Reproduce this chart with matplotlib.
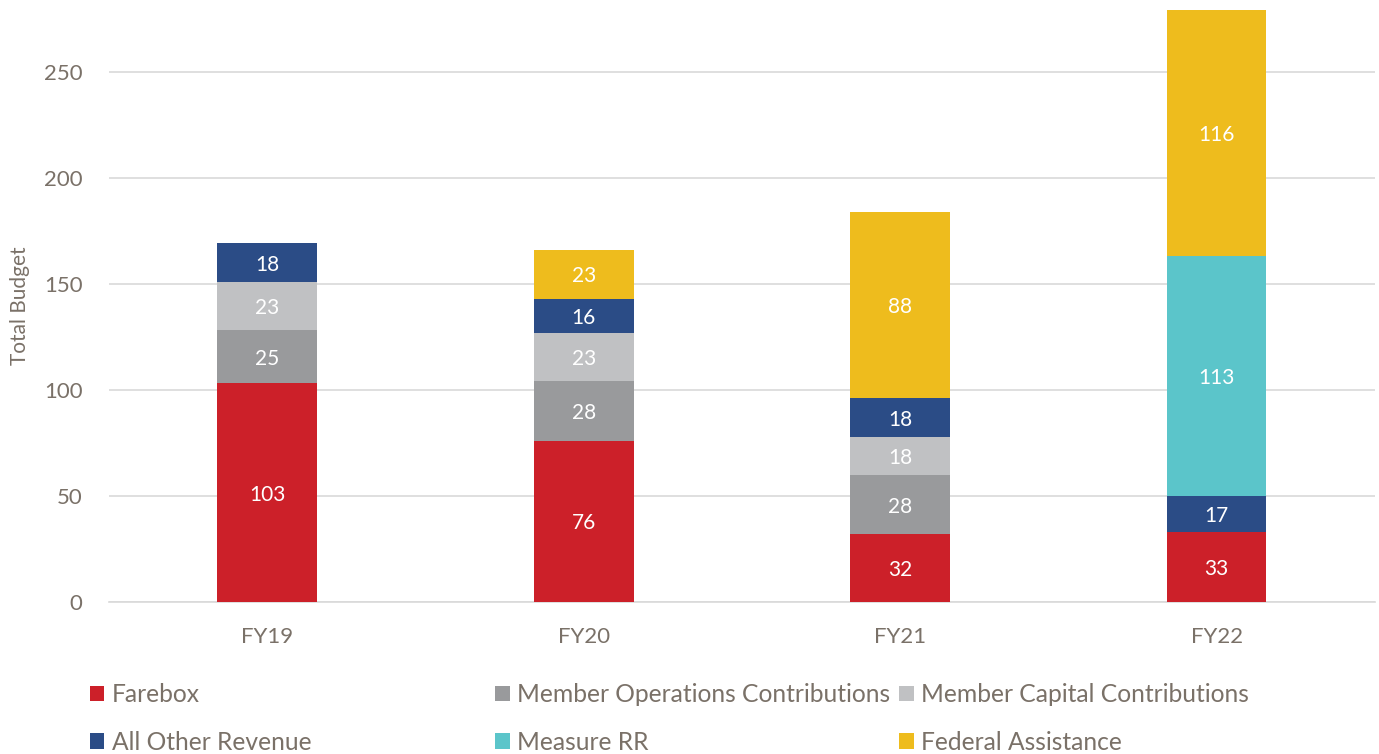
import numpy as np
import matplotlib.pyplot as plt

plt.rcParams['font.family'] = ['Lato', 'DejaVu Sans']

years = ['FY19', 'FY20', 'FY21', 'FY22']
series = ['Farebox', 'Member Operations Contributions', 'Member Capital Contributions',
          'All Other Revenue', 'Measure RR', 'Federal Assistance']
farebox     = [103, 76, 32, 33]
member_ops  = [25, 28, 28, 0]
member_cap  = [23, 23, 18, 0]
other_rev   = [18, 16, 18, 17]
measure_rr  = [0, 0, 0, 113]
federal     = [0, 23, 88, 116]
colors = ['#CC2029', '#999A9C', '#C0C1C3', '#2B4C86', '#5BC5CA', '#EEBC1D']

text_col = '#7A7168'
grid_col = '#D9D9D9'

fig = plt.figure(figsize=(13.79, 7.54), dpi=100)
ax = fig.add_axes([0.079, 0.2016, 0.918, 0.785])

data = [farebox, member_ops, member_cap, other_rev, measure_rr, federal]
x = np.arange(len(years))
bottom = np.zeros(len(years))
handles = []
for name, vals, c in zip(series, data, colors):
    vals = np.array(vals, dtype=float)
    bars = ax.bar(x, vals, 0.315, bottom=bottom, color=c, label=name, zorder=3)
    handles.append(bars)
    for xi, b, v in zip(x, bottom, vals):
        if v > 0:
            ax.text(xi, b + v / 2 - 1, '%d' % v, ha='center', va='center',
                    color='white', fontsize=15, zorder=4)
    bottom += vals

ax.set_xlim(-0.5, 3.5)
ax.set_ylim(0, 279)
ax.set_yticks(np.arange(0, 251, 50))
ax.set_xticks(x)
ax.set_xticklabels(years)
ax.yaxis.grid(True, color=grid_col, linewidth=1.2, zorder=0)
ax.set_axisbelow(True)
for s in ['top', 'right', 'left']:
    ax.spines[s].set_visible(False)
ax.spines['bottom'].set_color(grid_col)
ax.spines['bottom'].set_linewidth(1.2)
ax.tick_params(axis='both', length=0, labelsize=16, labelcolor=text_col)
ax.tick_params(axis='y', pad=19)
ax.tick_params(axis='x', pad=18)
ax.set_ylabel('Total Budget', fontsize=15, color=text_col)
ax.yaxis.set_label_coords(-0.062, 0.5)

# legend: 2 rows x 3 columns, one legend per column
col_x = [0.065, 0.359, 0.652]
for i, cx in enumerate(col_x):
    hs = [handles[i], handles[i + 3]]
    labs = [series[i], series[i + 3]]
    leg = fig.legend(hs, labs, loc='upper left', bbox_to_anchor=(cx, 0.094),
                     frameon=False, fontsize=17.7, handlelength=0.6, handleheight=0.6,
                     handletextpad=0.3, labelspacing=1.0, borderaxespad=0, borderpad=0)
    for t in leg.get_texts():
        t.set_color(text_col)

fig.savefig('out.png', dpi=100)
